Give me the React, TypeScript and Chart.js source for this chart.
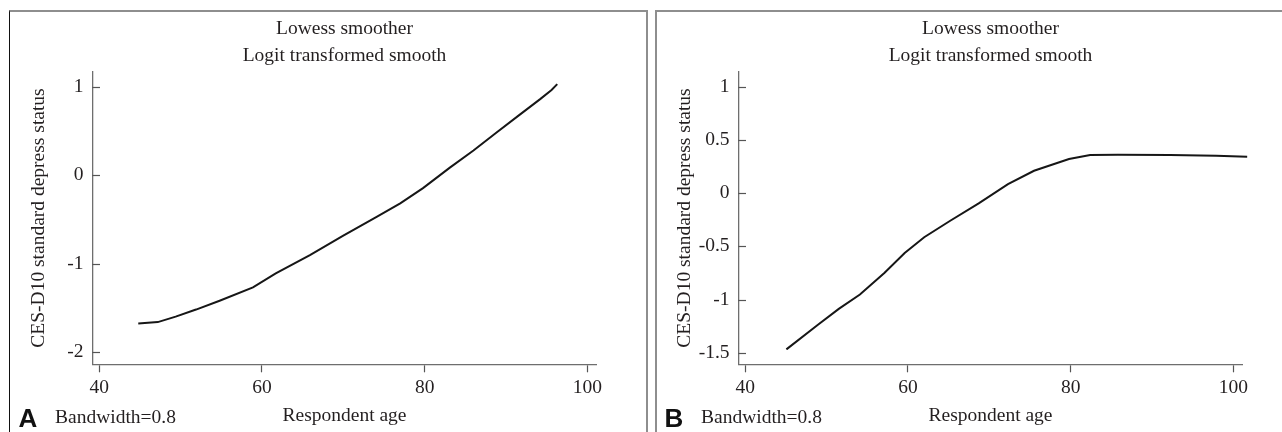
import React, { useEffect, useRef } from "react";
import { Chart, registerables } from "chart.js";

Chart.register(...registerables);

// ---- text ----
const titleLines = ["Lowess smoother", "Logit transformed smooth"];
const yAxisTitle = "CES-D10 standard depress status";
const xAxisTitle = "Respondent age";
const bandwidthLabel = "Bandwidth=0.8";
const panelLetters = ["A", "B"];

// ---- axes ----
const xTicks = [40, 60, 80, 100];
const xRange = [39.15, 101.15];

// ---- panel A data ----
const ageA = [44.8, 47.2, 49.4, 51.9, 54.8, 58.9, 61.7, 65.9, 70.0, 74.1, 77.0, 79.8, 83.1, 86.0, 88.8, 91.7, 94.2, 95.6, 96.3];
const smoothA = [-1.677, -1.662, -1.6, -1.52, -1.42, -1.27, -1.11, -0.904, -0.685, -0.473, -0.319, -0.146, 0.085, 0.278, 0.48, 0.685, 0.86, 0.963, 1.03];
const yTicksA = [-2, -1, 0, 1];
const yRangeA = [-2.139, 1.17];

// ---- panel B data ----
const ageB = [45.06, 48.9, 51.5, 54.1, 57.1, 59.6, 62.0, 65.2, 68.7, 72.3, 75.5, 79.8, 82.4, 85.8, 92.2, 97.9, 101.7, 104.5];
const smoothB = [-1.469, -1.24, -1.088, -0.953, -0.751, -0.563, -0.415, -0.26, -0.097, 0.085, 0.21, 0.32, 0.357, 0.36, 0.357, 0.351, 0.342, 0.329];
const yTicksB = [-1.5, -1, -0.5, 0, 0.5, 1];
const yRangeB = [-1.609, 1.141];

const SERIF = "'Liberation Serif', 'Times New Roman', Times, serif";
const SANS = "'Liberation Sans', Arial, Helvetica, sans-serif";
const TEXT = "#231f20";
const AXIS = "#6e6e6e";
const FS = 19.5;

const decorPlugin = {
  id: "decor",
  afterDraw(chart: any, _args: any, opts: any) {
    const { ctx, chartArea, scales } = chart;
    const y = scales.y;
    ctx.save();
    // inward y ticks
    ctx.strokeStyle = "#555";
    ctx.lineWidth = 1.2;
    for (const t of y.ticks) {
      const py = Math.round(y.getPixelForValue(t.value)) + 0.5;
      ctx.beginPath();
      ctx.moveTo(chartArea.left, py);
      ctx.lineTo(chartArea.left + 7.7, py);
      ctx.stroke();
    }
    // panel letter and bandwidth note
    ctx.textAlign = "left";
    ctx.textBaseline = "alphabetic";
    ctx.fillStyle = "#111";
    ctx.font = `bold 26px ${SANS}`;
    ctx.fillText(opts.letter, 18.5, 427);
    ctx.fillStyle = TEXT;
    ctx.font = `${FS}px ${SERIF}`;
    ctx.fillText(opts.note, 55, 422.7);
    ctx.restore();
  },
};

function makeConfig(letter: string, ages: number[], values: number[], yTicks: number[], yRange: number[]): any {
  return {
    type: "line",
    data: {
      datasets: [
        {
          data: ages.map((a, i) => ({ x: a, y: values[i] })),
          borderColor: "#161616",
          borderWidth: 2,
          pointRadius: 0,
          tension: 0,
          fill: false,
          clip: false,
        },
      ],
    },
    options: {
      animation: false,
      responsive: false,
      devicePixelRatio: 1,
      events: [],
      layout: { padding: { left: 0, right: 49.3, top: 0, bottom: 0 } },
      plugins: {
        legend: { display: false },
        tooltip: { enabled: false },
        title: {
          display: true,
          text: titleLines,
          fullSize: false,
          color: TEXT,
          font: { family: SERIF, size: FS, weight: "normal", lineHeight: 27.8 / FS },
          padding: { top: 14.6, bottom: 1.5 },
        },
        decor: { letter, note: bandwidthLabel },
      },
      scales: {
        x: {
          type: "linear",
          min: xRange[0],
          max: xRange[1],
          afterBuildTicks: (s: any) => {
            s.ticks = xTicks.map((v) => ({ value: v }));
          },
          afterFit: (s: any) => {
            s.height = 432 - 364.3;
          },
          grid: {
            display: true,
            drawOnChartArea: false,
            drawTicks: true,
            tickLength: 8,
            tickColor: "#555",
            tickWidth: 1.2,
          },
          border: { display: true, color: AXIS, width: 1.3 },
          ticks: {
            color: TEXT,
            padding: 3.4,
            maxRotation: 0,
            autoSkip: false,
            font: { family: SERIF, size: FS },
            callback: (v: any) => String(v),
          },
          title: {
            display: true,
            text: xAxisTitle,
            color: TEXT,
            font: { family: SERIF, size: FS, weight: "normal" },
            padding: { top: 0, bottom: 4.2 },
          },
        },
        y: {
          type: "linear",
          min: yRange[0],
          max: yRange[1],
          afterBuildTicks: (s: any) => {
            s.ticks = yTicks.map((v) => ({ value: v }));
          },
          afterFit: (s: any) => {
            s.width = 92.3;
          },
          grid: { display: true, drawOnChartArea: false, drawTicks: false },
          border: { display: true, color: AXIS, width: 1.3 },
          ticks: {
            color: TEXT,
            padding: 8.8,
            autoSkip: false,
            font: { family: SERIF, size: FS },
            callback: (v: any) => String(v),
          },
          title: {
            display: true,
            text: yAxisTitle,
            color: TEXT,
            font: { family: SERIF, size: FS, weight: "normal" },
            padding: { top: 27.3, bottom: 0 },
          },
        },
      },
    },
    plugins: [decorPlugin],
  };
}

function Panel(props: { left: number; letter: string; ages: number[]; values: number[]; yTicks: number[]; yRange: number[] }) {
  const ref = useRef<HTMLCanvasElement | null>(null);
  useEffect(() => {
    if (!ref.current) return;
    const chart = new Chart(ref.current, makeConfig(props.letter, props.ages, props.values, props.yTicks, props.yRange));
    return () => chart.destroy();
  }, []);
  return (
    <canvas
      ref={ref}
      width={646}
      height={432}
      style={{ position: "absolute", left: props.left, top: 0, width: 646, height: 432 }}
    />
  );
}

export default function App() {
  return (
    <div
      style={{
        position: "fixed",
        left: 0,
        top: 0,
        width: 1282,
        height: 432,
        overflow: "hidden",
        background: "#ffffff",
      }}
    >
      <div
        style={{
          position: "absolute",
          left: 9,
          top: 10,
          width: 639,
          height: 460,
          boxSizing: "border-box",
          borderLeft: "1px solid #111",
          borderTop: "2px solid #8e8e8e",
          borderRight: "2px solid #8e8e8e",
        }}
      />
      <div
        style={{
          position: "absolute",
          left: 655,
          top: 10,
          width: 700,
          height: 460,
          boxSizing: "border-box",
          borderLeft: "2px solid #8e8e8e",
          borderTop: "2px solid #8e8e8e",
        }}
      />
      <Panel left={0} letter={panelLetters[0]} ages={ageA} values={smoothA} yTicks={yTicksA} yRange={yRangeA} />
      <Panel left={646} letter={panelLetters[1]} ages={ageB} values={smoothB} yTicks={yTicksB} yRange={yRangeB} />
    </div>
  );
}
